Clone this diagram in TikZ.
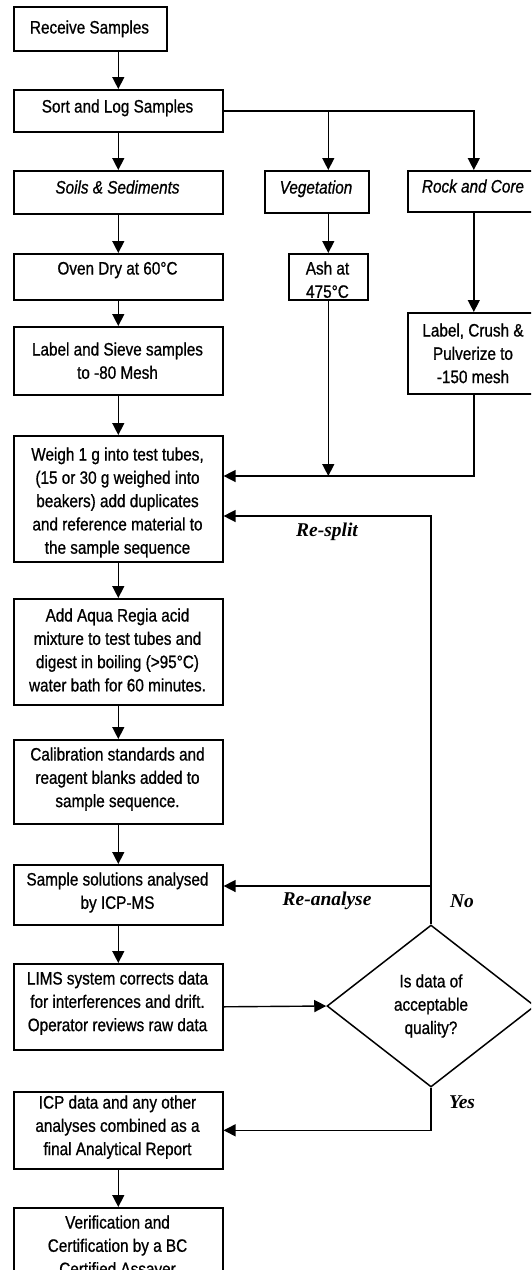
\documentclass[tikz,border=0pt]{standalone}
\usepackage{fontspec}
\setmainfont{Liberation Sans}[FakeStretch=0.85, FakeBold=0.8]
\newfontfamily\lblfont{Liberation Serif}
\usetikzlibrary{arrows.meta,shapes.geometric,calc}
\newcommand\flowbox[7]{%
  \node[box, anchor=north west, minimum width={#4-#2}, minimum height={#5-#3}] (#1) at (#2,#3) {};
  \node[txt, anchor=north] (#1-t) at ({(#2+#4)/2},{#6-10}) {\strut #7};
}
\begin{document}
\begin{tikzpicture}[x=1pt,y=-1pt,
  box/.style={draw, line width=1.6pt, inner sep=0pt, rectangle},
  txt/.style={inner sep=0pt, align=center, font=\fontsize{18}{23.3}\selectfont},
  lbl/.style={inner sep=0pt, font=\lblfont\bfseries\itshape\fontsize{19.5}{22}\selectfont},
  arr/.style={line width=1.4pt, -{Triangle[length=12pt,width=12pt]}},
  ln/.style={line width=1.4pt}]
\useasboundingbox (0,0) rectangle (531,1270);
\fill[white] (0,0) rectangle (531,1270);
\clip (0,0) rectangle (531,1270);

\flowbox{receive}{13}{6}{166}{50}{27}{Receive Samples}
\flowbox{sort}{13}{89}{222}{131}{106}{Sort and Log Samples}
\flowbox{soils}{13}{170}{222}{213}{187}{\itshape Soils \& Sediments}
\flowbox{veg}{264}{170}{368}{212}{187}{\itshape Vegetation}
\flowbox{rock}{407}{170}{539}{211}{186}{\itshape Rock and Core}
\flowbox{oven}{13}{253}{222}{299}{268}{Oven Dry at 60°C}
\flowbox{ash}{288}{253}{367}{299}{268}{Ash at\\475°C}
\flowbox{crush}{407}{312}{539}{393}{330}{Label, Crush \&\\Pulverize to\\-150 mesh}
\flowbox{sieve}{13}{326}{222}{394}{349}{Label and Sieve samples\\to -80 Mesh}
\flowbox{weigh}{13}{435}{222}{561}{454}{Weigh 1 g into test tubes,\\(15 or 30 g weighed into\\beakers) add duplicates\\and reference material to\\the sample sequence}
\flowbox{aqua}{13}{598}{222}{704}{615}{Add Aqua Regia acid\\mixture to test tubes and\\digest in boiling (>95°C)\\water bath for 60 minutes.}
\flowbox{calib}{13}{739}{222}{823}{754}{Calibration standards and\\reagent blanks added to\\sample sequence.}
\flowbox{sample}{13}{864}{222}{924}{879}{Sample solutions analysed\\by ICP-MS}
\flowbox{lims}{13}{963}{222}{1049}{978}{LIMS system corrects data\\for interferences and drift.\\Operator reviews raw data}
\flowbox{icp}{13}{1091}{222}{1168}{1102}{ICP data and any other\\analyses combined as a\\final Analytical Report}
\flowbox{verif}{13}{1207}{222}{1300}{1222}{Verification and\\Certification by a BC\\Certified Assayer}

\node[draw, diamond, line width=1.5pt, minimum width=208, minimum height=162, inner sep=0pt,
      align=center, font=\fontsize{18}{23.3}\selectfont] (dia) at (431,1006) {Is data of\\acceptable\\quality?};

\coordinate (merge) at (0,476);
\coordinate (resplit) at (0,516);
\coordinate (reana) at (0,886);

\draw[arr] (receive.south -| sort.south) -- (sort.north);
\draw[arr] (sort.south) -- (soils.north);
\draw[arr] (sort.east) -| (rock.north);
\draw[arr] (ash.north |- sort.east) -- (ash.north |- veg.north);
\draw[arr] (ash.north |- veg.south) -- (ash.north);
\draw[arr] (rock.south) -- (crush.north);
\draw[arr] (soils.south) -- (oven.north);
\draw[arr] (oven.south) -- (sieve.north);
\draw[arr] (sieve.south) -- (weigh.north);
\draw[arr] (ash.south) -- (ash.south |- merge);
\draw[arr] (crush.south) |- (weigh.east |- merge);
\draw[arr] (weigh.south) -- (aqua.north);
\draw[arr] (aqua.south) -- (calib.north);
\draw[arr] (calib.south) -- (sample.north);
\draw[arr] (sample.south) -- (lims.north);
\draw[arr] (dia.north) |- (weigh.east |- resplit);
\draw[arr] (dia.north |- reana) -- (sample.east |- reana);
\draw[arr] (lims.east) -- (dia.west);
\draw[arr] (dia.south) |- (icp.east);
\draw[arr] (icp.south) -- (verif.north);

\node[lbl] (lresplit) at (327,532) {Re-split};
\node[lbl] (lreana) at (327,901) {Re-analyse};
\node[lbl] (lno) at (462,901) {No};
\node[lbl] (lyes) at (462,1102) {Yes};
\end{tikzpicture}
\end{document}
